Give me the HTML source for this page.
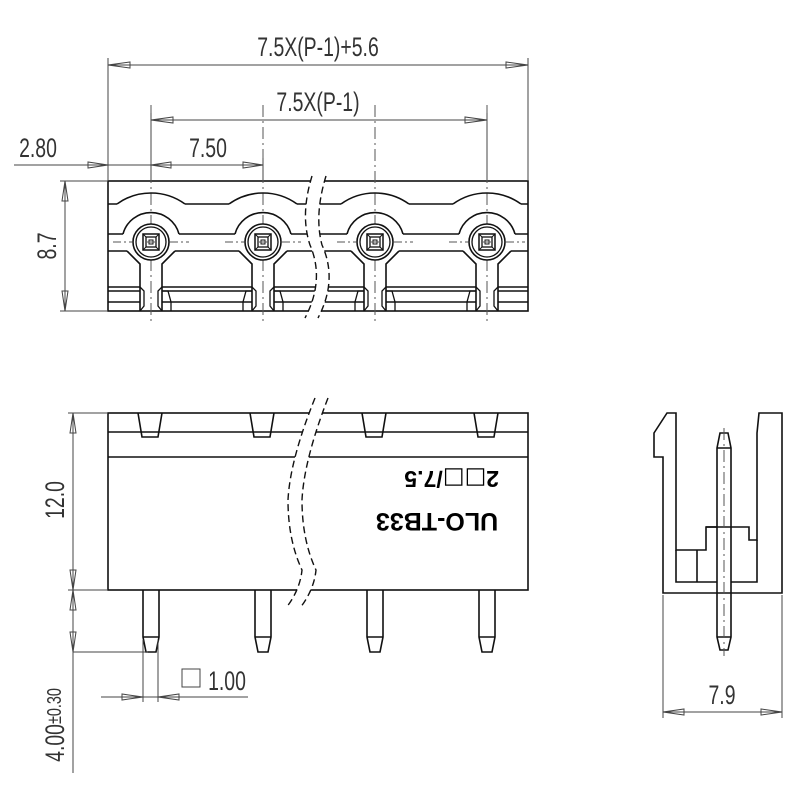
<!DOCTYPE html>
<html><head><meta charset="utf-8"><style>
html,body{margin:0;padding:0;background:#fff}
svg{display:block}
text{font-family:"Liberation Sans",sans-serif;fill:#333}
</style></head><body>
<svg width="800" height="800" viewBox="0 0 800 800" xmlns="http://www.w3.org/2000/svg">
<defs>
<g id="pinTop">
 <line x1="0" y1="105" x2="0" y2="325" stroke="#555" stroke-width="1" stroke-dasharray="12,4,2,4"/>
 <circle cx="0" cy="242" r="18" fill="#fff" stroke="#111" stroke-width="1.6"/>
 <circle cx="0" cy="242" r="15" fill="none" stroke="#111" stroke-width="1.3"/>
 <rect x="-8" y="234" width="16" height="16" fill="none" stroke="#111" stroke-width="1.5"/>
 <rect x="-5" y="237" width="10" height="10" fill="none" stroke="#111" stroke-width="1.3"/>
 <rect x="-2" y="240" width="4" height="4" fill="none" stroke="#111" stroke-width="1"/>
 <line x1="-8" y1="234" x2="-5" y2="237" stroke="#111"/><line x1="8" y1="234" x2="5" y2="237" stroke="#111"/>
 <line x1="-8" y1="250" x2="-5" y2="247" stroke="#111"/><line x1="8" y1="250" x2="5" y2="247" stroke="#111"/>
 <line x1="-38" y1="242" x2="-19" y2="242" stroke="#555" stroke-width="1" stroke-dasharray="8,3,2,3"/>
 <line x1="19" y1="242" x2="38" y2="242" stroke="#555" stroke-width="1" stroke-dasharray="8,3,2,3"/>
 <line x1="-4" y1="242" x2="4" y2="242" stroke="#555" stroke-width="1"/>
 <path d="M-34 204 A58 58 0 0 1 34 204" fill="none" stroke="#111" stroke-width="1.6"/>
 <path d="M-28 234 A29 29 0 0 1 28 234" fill="none" stroke="#111" stroke-width="1.6"/>
 <path d="M-24 251 L-11 264 L-11 311 M24 251 L11 264 L11 311" fill="none" stroke="#111" stroke-width="1.6"/>
 <path d="M-11 287 L-7 291 L-7 306 L-11 311 M11 287 L7 291 L7 306 L11 311" fill="none" stroke="#111" stroke-width="1.3"/>
</g>
<g id="seg">
 <!-- between-pin segments starting at pin x=0 to next pin x=112 -->
 <path d="M34 204 L78 204 M28 234 L84 234 M24 251 L88 251 M11 287 L101 287 M11 291 L101 291 M11 302 L101 302" stroke="#111" stroke-width="1.6" fill="none"/>
 <path d="M11 291 L17 291 L20 302 L20 311 M101 291 L95 291 L92 302 L92 311" stroke="#111" stroke-width="1.3" fill="none"/>
</g>
<g id="pinFront">
 <path d="M-13 413 L-9 437 L7 437 L11 413" fill="none" stroke="#111" stroke-width="1.6"/>
 <path d="M-8 590 L-8 637 L-5 652 L5 652 L8 637 L8 590 M-8 637 L8 637" fill="none" stroke="#111" stroke-width="1.6"/>
</g>
</defs>

<!-- TOP VIEW -->
<g stroke="#111" stroke-width="1.6" fill="none">
 <rect x="108" y="181" width="420" height="130"/>
 <path d="M108 204 L117 204 M108 234 L123 234 M108 251 L127 251 M108 287 L140 287 M108 291 L140 291 M108 302 L140 302"/>
 <path d="M528 204 L521 204 M528 234 L515 234 M528 251 L511 251 M528 287 L498 287 M528 291 L498 291 M528 302 L498 302"/>
</g>
<use href="#seg" x="151"/><use href="#seg" x="263"/><use href="#seg" x="375"/>
<use href="#pinTop" x="151"/>
<use href="#pinTop" x="263"/>
<use href="#pinTop" x="375"/>
<use href="#pinTop" x="487"/>
<!-- break top view -->
<path d="M312 176 Q300 215 310 245 Q325 280 305 318 L318 318 Q338 280 322 245 Q314 215 326 176 Z" fill="#fff"/>
<path d="M312 176 Q300 215 310 245 Q325 280 305 318" fill="none" stroke="#111" stroke-width="1.4" stroke-dasharray="7,4"/>
<path d="M326 176 Q314 215 322 245 Q338 280 318 318" fill="none" stroke="#111" stroke-width="1.4" stroke-dasharray="7,4"/>

<!-- FRONT VIEW -->
<g stroke="#111" stroke-width="1.6" fill="none">
 <rect x="108" y="413" width="420" height="177"/>
 <line x1="108" y1="432" x2="528" y2="432"/>
 <line x1="108" y1="457" x2="528" y2="457"/>
</g>
<rect x="139" y="433" width="24" height="3" fill="#fff"/><rect x="251" y="433" width="24" height="3" fill="#fff"/>
<rect x="363" y="433" width="24" height="3" fill="#fff"/><rect x="475" y="433" width="24" height="3" fill="#fff"/>
<use href="#pinFront" x="151"/>
<use href="#pinFront" x="263"/>
<use href="#pinFront" x="375"/>
<use href="#pinFront" x="487"/>
<path d="M315 398 Q290 460 288 500 Q288 540 302 570 Q300 590 286 608 L300 608 Q314 590 316 570 Q302 540 302 500 Q304 460 328 398 Z" fill="#fff"/>
<path d="M315 398 Q290 460 288 500 Q288 540 302 570 Q300 590 286 608" fill="none" stroke="#111" stroke-width="1.4" stroke-dasharray="7,4"/>
<path d="M328 398 Q304 460 302 500 Q302 540 316 570 Q314 590 300 608" fill="none" stroke="#111" stroke-width="1.4" stroke-dasharray="7,4"/>
<g transform="rotate(180 437 500)">
 <text x="437" y="487" text-anchor="middle" font-size="25" font-weight="bold" style="fill:#000">ULO-TB33</text>
 <text x="375" y="529" font-size="23" font-weight="bold" style="fill:#000">2<tspan font-family="DejaVu Sans" font-weight="normal">□□</tspan>/7.5</text>
</g>

<!-- SIDE VIEW -->
<g stroke="#111" stroke-width="1.6" fill="none">
 <path d="M654 433 L667 413 L676 413 L676 550 L697 550 L706 550 L706 527 L749 527 L749 540 L757 540 L757 433 L759 413 L782 413 L782 593 L663 593 L663 457 L654 457 Z"/>
 <path d="M676 550 L676 582 L717 582 M731 582 L757 582 L757 540"/>
 <line x1="697" y1="550" x2="697" y2="582"/>
 <line x1="706" y1="527" x2="717" y2="527"/>
 <path d="M717 448 L720 433 L728 433 L731 448 L731 637 L728 650 L720 650 L717 637 Z M717 448 L731 448 M717 637 L731 637"/>
</g>
<line x1="724" y1="428" x2="724" y2="656" stroke="#555" stroke-dasharray="12,4,2,4"/>

<!-- DIMENSIONS -->
<g stroke="#444" stroke-width="1" fill="none">
 <line x1="108" y1="58" x2="108" y2="180"/><line x1="528" y1="58" x2="528" y2="180"/>
 <line x1="108" y1="65" x2="528" y2="65"/>
 <line x1="151" y1="113" x2="151" y2="180"/><line x1="487" y1="113" x2="487" y2="180"/>
 <line x1="151" y1="120" x2="487" y2="120"/>
 <line x1="263" y1="158" x2="263" y2="180"/>
 <line x1="14" y1="165" x2="263" y2="165"/>
 <line x1="60" y1="181" x2="108" y2="181"/><line x1="60" y1="311" x2="108" y2="311"/>
 <line x1="65" y1="181" x2="65" y2="311"/>
 <line x1="68" y1="413" x2="108" y2="413"/><line x1="68" y1="590" x2="108" y2="590"/>
 <line x1="73" y1="413" x2="73" y2="773"/>
 <line x1="73" y1="652" x2="148" y2="652"/>
 <line x1="143" y1="640" x2="143" y2="702"/><line x1="158" y1="640" x2="158" y2="702"/>
 <line x1="101" y1="697" x2="248" y2="697"/>
 <line x1="663" y1="595" x2="663" y2="718"/><line x1="782" y1="595" x2="782" y2="718"/>
 <line x1="663" y1="712" x2="782" y2="712"/>
 <rect x="182" y="669" width="18" height="18"/>
 <path d="M108 65 L130 62 L130 68 Z M528 65 L506 62 L506 68 Z"/>
 <path d="M151 120 L173 117 L173 123 Z M487 120 L465 117 L465 123 Z"/>
 <path d="M108 165 L88 162 L88 168 Z M151 165 L171 162 L171 168 Z M263 165 L243 162 L243 168 Z"/>
 <path d="M65 181 L62 201 L68 201 Z M65 311 L62 291 L68 291 Z"/>
 <path d="M73 413 L70 433 L76 433 Z M73 590 L70 570 L76 570 Z"/>
 <path d="M73 590 L70 610 L76 610 Z M73 652 L70 632 L76 632 Z"/>
 <path d="M143 697 L122 694 L122 700 Z M158 697 L179 694 L179 700 Z"/>
 <path d="M663 712 L684 709 L684 715 Z M782 712 L761 709 L761 715 Z"/>
</g>
<g font-size="27">
 <text x="318" y="56" text-anchor="middle" transform="translate(318 0) scale(0.72 1) translate(-318 0)">7.5X(P-1)+5.6</text>
 <text x="318" y="111" text-anchor="middle" transform="translate(318 0) scale(0.72 1) translate(-318 0)">7.5X(P-1)</text>
 <text x="208" y="157" text-anchor="middle" transform="translate(208 0) scale(0.72 1) translate(-208 0)">7.50</text>
 <text x="38" y="157" text-anchor="middle" transform="translate(38 0) scale(0.72 1) translate(-38 0)">2.80</text>
 <text x="722" y="704" text-anchor="middle" transform="translate(722 0) scale(0.72 1) translate(-722 0)">7.9</text>
 <text x="227" y="690" text-anchor="middle" transform="translate(227 0) scale(0.72 1) translate(-227 0)">1.00</text>
 <text transform="translate(56 246) rotate(-90) scale(0.72 1)" text-anchor="middle">8.7</text>
 <text transform="translate(64 500) rotate(-90) scale(0.72 1)" text-anchor="middle">12.0</text>
 <text transform="translate(64 725) rotate(-90) scale(0.72 1)" text-anchor="middle">4.00<tspan font-size="20" dy="-3">±0.30</tspan></text>
</g>
</svg>
</body></html>
